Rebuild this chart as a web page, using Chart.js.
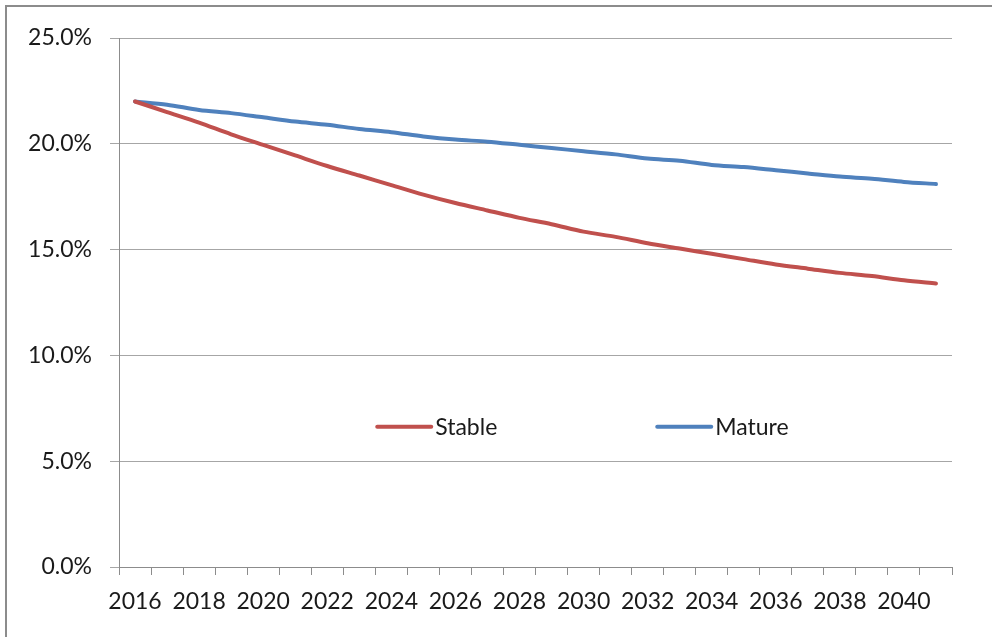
<!DOCTYPE html>
<html>
<head>
<meta charset="utf-8">
<script src="https://cdn.jsdelivr.net/npm/chart.js@4.4.0/dist/chart.umd.min.js"></script>
<style>
  html, body { margin: 0; padding: 0; background: #fff; overflow: hidden; }
  #wrap { position: relative; width: 992px; height: 637px; overflow: hidden; }
  #frame { position: absolute; left: 5px; top: 5px; width: 1100px; height: 800px;
           border-left: 2px solid #8c8c8c; border-top: 2px solid #8c8c8c; pointer-events: none; }
</style>
</head>
<body>
<div id="wrap">
  <canvas id="chart" width="992" height="637"></canvas>
  <div id="frame"></div>
</div>
<script>
// data (percent)
var years = ['2016', '2017', '2018', '2019', '2020', '2021', '2022', '2023', '2024', '2025', '2026', '2027', '2028',
             '2029', '2030', '2031', '2032', '2033', '2034', '2035', '2036', '2037', '2038', '2039', '2040', '2041'];
var stable = [22.0, 21.5, 21.0, 20.45, 19.95, 19.45, 18.95, 18.5, 18.05, 17.6, 17.2, 16.85, 16.5,
              16.2, 15.85, 15.6, 15.3, 15.05, 14.8, 14.55, 14.3, 14.1, 13.9, 13.75, 13.55, 13.4];
var mature = [22.0, 21.85, 21.6, 21.45, 21.25, 21.05, 20.9, 20.7, 20.55, 20.35, 20.2, 20.1, 19.95,
              19.8, 19.65, 19.5, 19.3, 19.2, 19.0, 18.9, 18.75, 18.6, 18.45, 18.35, 18.2, 18.1];
var yTicks = [0, 5, 10, 15, 20, 25];

var gridGray = '#a6a6a6';
var axisGray = '#8c8c8c';
var fontFamily = 'Lato, "Open Sans", sans-serif';

// legend sits inside the plot area, like the Excel original
var insideLegend = {
  id: 'insideLegend',
  afterDatasetsDraw: function (chart) {
    var ctx = chart.ctx;
    var area = chart.chartArea;
    var y = area.top + area.height * 0.735;
    var x = area.left + area.width * 0.31;
    ctx.save();
    ctx.font = '23px ' + fontFamily;
    ctx.textBaseline = 'middle';
    chart.data.datasets.forEach(function (ds) {
      ctx.strokeStyle = ds.borderColor;
      ctx.lineWidth = 4;
      ctx.lineCap = 'round';
      ctx.beginPath();
      ctx.moveTo(x, y);
      ctx.lineTo(x + 54, y);
      ctx.stroke();
      ctx.fillStyle = '#1a1a1a';
      ctx.fillText(ds.label, x + 58, y + 1);
      x += 280;
    });
    ctx.restore();
  }
};

var ctx = document.getElementById('chart').getContext('2d');
var chart = new Chart(ctx, {
  type: 'line',
  data: {
    labels: years,
    datasets: [{
      label: 'Stable',
      data: stable,
      borderColor: '#c0504d',
      backgroundColor: '#c0504d',
      borderWidth: 4,
      pointRadius: 0,
      tension: 0.3,
      borderCapStyle: 'round'
    }, {
      label: 'Mature',
      data: mature,
      borderColor: '#4f81bd',
      backgroundColor: '#4f81bd',
      borderWidth: 4,
      pointRadius: 0,
      tension: 0.3,
      borderCapStyle: 'round'
    }]
  },
  options: {
    responsive: false,
    animation: false,
    layout: { padding: { top: 38, right: 40, left: 0, bottom: 0 } },
    plugins: {
      legend: { display: false },
      tooltip: { enabled: false }
    },
    scales: {
      x: {
        offset: true,
        grid: { offset: true, drawOnChartArea: false, drawTicks: true, tickLength: 8, color: axisGray },
        border: { color: axisGray, width: 1 },
        ticks: {
          autoSkip: false,
          maxRotation: 0,
          padding: 13,
          color: '#1a1a1a',
          font: { family: fontFamily, size: 23 },
          callback: function (v, i) { return i % 2 === 0 ? years[i] : ''; }
        },
        afterFit: function (scale) { scale.height = 70; }
      },
      y: {
        min: 0,
        max: 25,
        afterBuildTicks: function (scale) {
          scale.ticks = yTicks.map(function (v) { return { value: v }; });
        },
        grid: { color: gridGray, tickLength: 9, drawTicks: true },
        border: { color: axisGray, width: 1 },
        ticks: {
          padding: 18,
          color: '#1a1a1a',
          font: { family: fontFamily, size: 23 },
          callback: function (v) { return v.toFixed(1) + '%'; }
        },
        afterFit: function (scale) { scale.width = 119; }
      }
    }
  },
  plugins: [insideLegend]
});
</script>
</body>
</html>
